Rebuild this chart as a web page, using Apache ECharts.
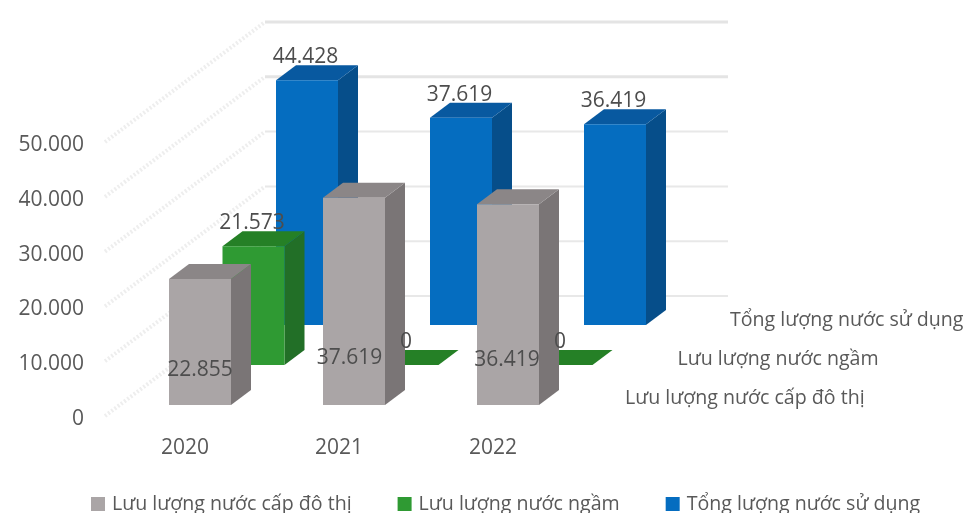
<!DOCTYPE html>
<html><head><meta charset="utf-8">
<style>html,body{margin:0;padding:0;background:#fff}#c{width:969px;height:513px}</style>
<script src="https://cdn.jsdelivr.net/npm/echarts@6/dist/echarts.min.js"></script></head>
<body><div id="c"></div>
<script>
const years = ['2020','2021','2022'];
const seriesNames = ['Lưu lượng nước cấp đô thị','Lưu lượng nước ngầm','Tổng lượng nước sử dụng'];
const capDoThi = [22855,37619,36419];
const nuocNgam = [21573,0,0];
const tongLuong = [44428,37619,36419];
const tickValues = [0,10000,20000,30000,40000,50000];

const FONT='"Open Sans"', TXT='#595959';
const palette=[
 {front:'#aaa5a6',top:'#8b8687',side:'#7a7576'},
 {front:'#2f9a33',top:'#258026',side:'#226f27'},
 {front:'#056dc0',top:'#0859a0',side:'#064e8a'}];
const values=[capDoThi,nuocNgam,tongLuong];
const ROW_DX=53.5, ROW_DY=-40, BAR_W=62, DEPTH_X=20, DEPTH_Y=-15;
// hand-placed labels of the front row (centre shift x, centre y above the floor)
const frontLabelPlace=[[-0.5,35],[-5,47],[-1.5,45]];
const fmt=v=>String(v).replace(/\B(?=(\d{3})+$)/g,'.');

function barSeries(row){
  const c=palette[row];
  return {type:'custom',name:seriesNames[row],xAxisIndex:1,yAxisIndex:1,z:4-row,silent:true,
    itemStyle:{color:c.front},encode:{x:0,y:1},
    data:years.map((y,i)=>[i,values[row][i]]),
    renderItem(p,api){
      const top=api.coord([api.value(0),api.value(1)]), base=api.coord([api.value(0),0]);
      const ox=row*ROW_DX, oy=row*ROW_DY;
      const l=top[0]-31.5+ox, r=l+BAR_W, t=top[1]+oy, b=base[1]+oy;
      const poly=(pts,fill)=>({type:'polygon',shape:{points:pts},style:{fill}});
      return {type:'group',children:[
        poly([[r,t],[r+DEPTH_X,t+DEPTH_Y],[r+DEPTH_X,b+DEPTH_Y],[r,b]],c.side),
        poly([[l,t],[l+DEPTH_X,t+DEPTH_Y],[r+DEPTH_X,t+DEPTH_Y],[r,t]],c.top),
        {type:'rect',shape:{x:l,y:t,width:BAR_W,height:b-t},style:{fill:c.front}}
      ]};
    }};
}
function labelSeries(row){
  return {type:'custom',xAxisIndex:1,yAxisIndex:1,z:10,silent:true,
    data:years.map((y,i)=>[i,values[row][i]]),encode:{x:0,y:1},
    renderItem(p,api){
      const i=api.value(0), v=api.value(1);
      const top=api.coord([i,v]), base=api.coord([i,0]);
      let x=top[0]+row*ROW_DX-2, y=top[1]+row*ROW_DY-23;
      if(row===0){x=top[0]+frontLabelPlace[i][0]; y=base[1]-frontLabelPlace[i][1];}
      return {type:'text',style:{x,y,text:fmt(v),align:'center',verticalAlign:'middle',
        font:'21px '+FONT,fill:'#4d4d4d'}};
    }};
}
const wall={type:'custom',xAxisIndex:0,yAxisIndex:0,z:1,silent:true,
  data:tickValues.map(v=>[0,v]),encode:{x:0,y:1},
  renderItem(p,api){
    const pt=api.coord([0,api.value(1)]);
    const x0=pt[0]-80,y0=pt[1]-3,x1=x0+160,y1=y0-120;
    const heavy=api.value(1)>=40000;
    return {type:'group',children:[
      {type:'line',shape:{x1:x0,y1:y0,x2:x1,y2:y1},style:{stroke:'#eeeeee',lineWidth:4,lineDash:[2,2]}},
      {type:'line',shape:{x1,y1,x2:728,y2:y1},style:{stroke:heavy?'#e4e4e4':'#e8e8e8',lineWidth:heavy?3:2}}
    ]};
  }};
const depthLabels={type:'custom',xAxisIndex:1,yAxisIndex:1,z:10,silent:true,
  data:seriesNames.map((n,i)=>[2,0,i]),encode:{x:0,y:1},
  renderItem(p,api){
    const pt=api.coord([2,0]), row=api.value(2);
    return {type:'text',style:{x:pt[0]+116.5+row*52.5,y:pt[1]-7-row*39,text:seriesNames[row],
      align:'left',verticalAlign:'middle',font:'19.6px '+FONT,fill:TXT}};
  }};
const chart=echarts.init(document.getElementById('c'),null,{renderer:'canvas'});
chart.setOption({
  animation:false,backgroundColor:'#fff',
  grid:[{left:108,top:145,width:462,height:274},{left:123.5,top:129.5,width:462,height:275.5}],
  xAxis:[
    {type:'category',gridIndex:0,data:years,axisLine:{show:false},axisTick:{show:false},
     axisLabel:{margin:19,color:TXT,fontFamily:FONT,fontSize:21}},
    {type:'category',gridIndex:1,data:years,show:false}],
  yAxis:[
    {type:'value',gridIndex:0,min:0,max:50000,interval:10000,splitLine:{show:false},axisLine:{show:false},axisTick:{show:false},
     axisLabel:{margin:24,color:TXT,fontFamily:FONT,fontSize:21,formatter:fmt}},
    {type:'value',gridIndex:1,min:0,max:50000,interval:10000,show:false}],
  legend:{left:86,top:489,itemWidth:14,itemHeight:14,itemGap:46,icon:'rect',selectedMode:false,
    data:seriesNames,textStyle:{color:TXT,fontFamily:FONT,fontSize:19.6,padding:[0,0,0,2]}},
  series:[wall,barSeries(2),barSeries(1),barSeries(0),labelSeries(0),labelSeries(1),labelSeries(2),depthLabels]
});
</script></body></html>
